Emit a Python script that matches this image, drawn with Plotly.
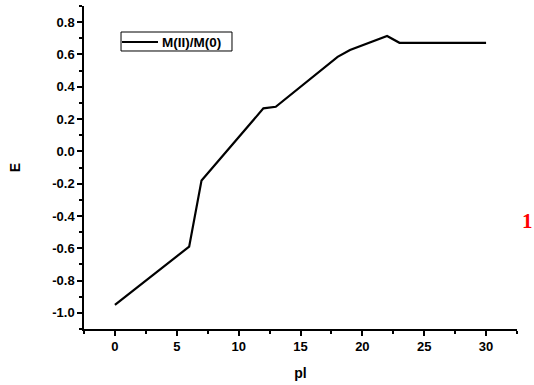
import plotly.graph_objects as go

pl = [0, 6, 7, 12, 13, 18, 19, 22, 23, 30]
E = [-0.95, -0.59, -0.18, 0.266, 0.276, 0.585, 0.628, 0.714, 0.672, 0.672]
series_name = "M(II)/M(0)"
x_ticks = [0, 5, 10, 15, 20, 25, 30]
y_ticks = [-1.0, -0.8, -0.6, -0.4, -0.2, 0.0, 0.2, 0.4, 0.6, 0.8]

fig = go.Figure()
fig.add_trace(go.Scatter(x=pl, y=E, mode="lines", name=series_name,
                         line=dict(color="black", width=2.2), showlegend=False))

fam = "Liberation Sans, Arial, sans-serif"
font_b = dict(family=fam, size=13, color="black")

# hand-drawn legend box (matches reference's compact Origin-style legend)
shapes = [
    dict(type="rect", xref="paper", yref="paper", x0=0.0855, x1=0.3418, y0=0.8607, y1=0.9195,
         line=dict(color="black", width=1), fillcolor="white", layer="above"),
    dict(type="line", xref="paper", yref="paper", x0=0.0878, x1=0.1709, y0=0.8885, y1=0.8885,
         line=dict(color="black", width=2.2), layer="above"),
]

fig.update_layout(
    width=534, height=385,
    margin=dict(l=84, r=17, t=6, b=56, autoexpand=False),
    plot_bgcolor="white", paper_bgcolor="white",
    showlegend=False,
    shapes=shapes,
    xaxis=dict(range=[-2.5, 32.5], showline=True, linecolor="black", linewidth=1.5,
               ticks="outside", ticklen=5, tickwidth=1.5, tickcolor="black",
               tickvals=x_ticks, ticktext=["<b>%d</b>" % v for v in x_ticks],
               showgrid=False, zeroline=False, automargin=False,
               tickfont=font_b,
               minor=dict(ticks="outside", ticklen=3, dtick=2.5, tick0=0, tickcolor="black", tickwidth=1.5, showgrid=False),
               title=dict(text="<b>pl</b>", font=dict(family=fam, size=14, color="black"), standoff=15)),
    yaxis=dict(range=[-1.1, 0.9], showline=True, linecolor="black", linewidth=1.5,
               ticks="outside", ticklen=5, tickwidth=1.5, tickcolor="black",
               tickvals=y_ticks, ticktext=["<b>%.1f</b>" % v for v in y_ticks],
               showgrid=False, zeroline=False, automargin=False,
               tickfont=font_b,
               minor=dict(ticks="outside", ticklen=3, dtick=0.1, tick0=0, tickcolor="black", tickwidth=1.5, showgrid=False),
               title=dict(text="<b>E</b>", font=dict(family=fam, size=14, color="black"), standoff=28)),
    annotations=[
        dict(text="<b>" + series_name + "</b>", x=0.1755, y=0.8885, xref="paper", yref="paper",
             showarrow=False, xanchor="left", yanchor="middle",
             font=dict(family=fam, size=13.5, color="black")),
        dict(text="<b>1</b>", x=1.025, y=0.334, xref="paper", yref="paper",
             showarrow=False, xanchor="center", yanchor="middle",
             font=dict(family="Liberation Serif, Times New Roman, serif", size=21, color="red")),
    ],
)

fig.write_html("out.html", config={"displayModeBar": False},
               post_script="document.body.style.margin='0';")
